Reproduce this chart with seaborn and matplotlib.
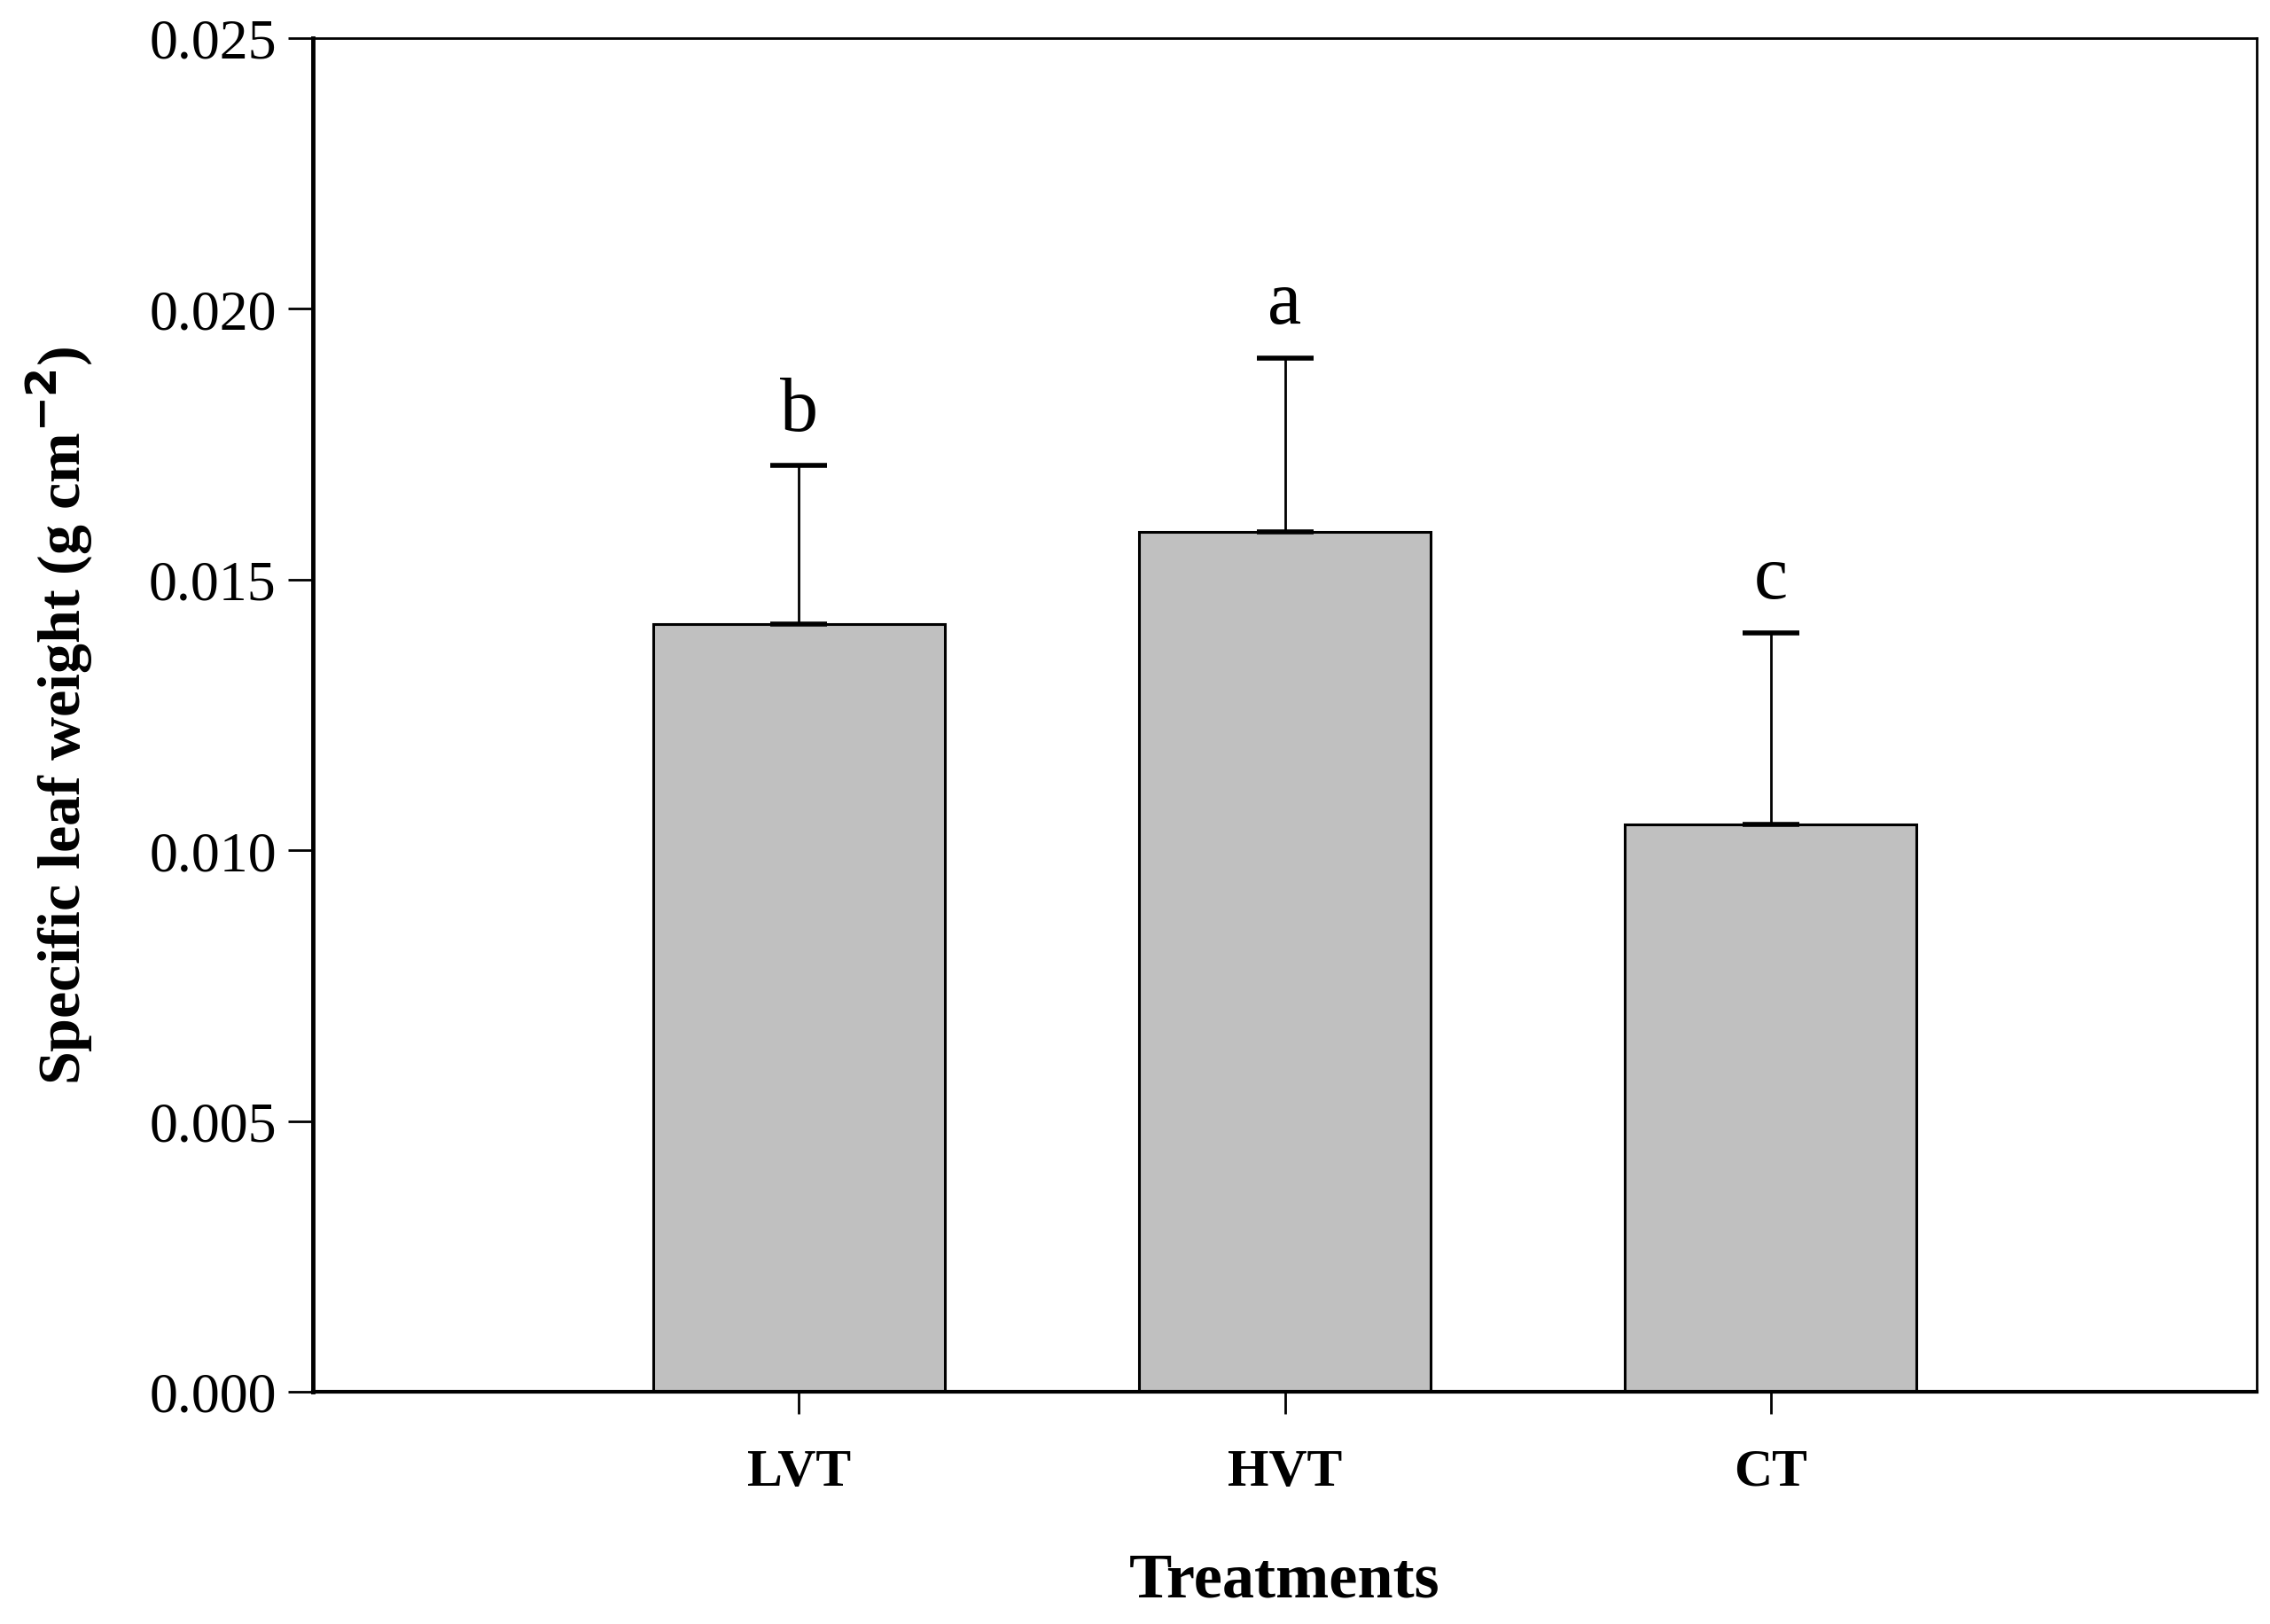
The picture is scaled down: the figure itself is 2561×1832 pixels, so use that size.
import numpy as np
import pandas as pd
import matplotlib
matplotlib.use("Agg")
import matplotlib.pyplot as plt
import seaborn as sns

## data
treatments = ["LVT", "HVT", "CT"]
slw_mean = [0.01417, 0.01588, 0.01048]
slw_err = [0.00294, 0.00321, 0.00353]
letters = ["b", "a", "c"]

df = pd.DataFrame({"Treatments": treatments, "SLW": slw_mean})

sns.set_style("ticks")
plt.rcParams['font.family'] = ['Liberation Serif', 'DejaVu Serif']
plt.rcParams['text.color'] = 'black'
plt.rcParams['axes.labelcolor'] = 'black'
plt.rcParams['xtick.color'] = 'black'
plt.rcParams['ytick.color'] = 'black'

fig, ax = plt.subplots(figsize=(25.61, 18.33), dpi=100)
fig.subplots_adjust(left=0.138, right=0.994, bottom=0.143, top=0.976)

sns.barplot(data=df, x="Treatments", y="SLW", order=treatments,
            color="#c0c0c0", saturation=1, width=0.6, errorbar=None,
            edgecolor="black", linewidth=2.2, ax=ax)

## upper error bars only
xpos = np.arange(len(treatments))
ax.errorbar(xpos, slw_mean, yerr=[np.zeros(len(slw_err)), slw_err],
            fmt="none", ecolor="black", elinewidth=2, capsize=23,
            capthick=4, zorder=3)

## significance letters
for x, m, e, l in zip(xpos, slw_mean, slw_err, letters):
    ax.text(x, m + e + 0.00035, l, ha="center", va="bottom", fontsize=62)

ax.set_xlim(-1, 3)
ax.set_ylim(0, 0.025)
ax.set_yticks(np.arange(0, 0.0251, 0.005))
ax.yaxis.set_major_formatter(matplotlib.ticker.FormatStrFormatter('%.3f'))

for s in ax.spines.values():
    s.set_visible(True)
    s.set_color("black")
    s.set_linewidth(2)
ax.spines['left'].set_linewidth(3.5)
ax.spines['bottom'].set_linewidth(3)

ax.tick_params(axis='y', direction='out', length=20, width=2, labelsize=46, pad=10)
ax.tick_params(axis='x', direction='out', length=18, width=2, labelsize=43, pad=28)
for t in ax.get_xticklabels():
    t.set_fontweight('bold')

ax.set_xlabel("Treatments", fontsize=52, fontweight='bold', labelpad=45)
ax.set_ylabel("Specific leaf weight (g cm$^{\\mathbf{-2}}$)", fontsize=49,
              fontweight='bold', labelpad=44)

plt.savefig("out.png", dpi=100)
